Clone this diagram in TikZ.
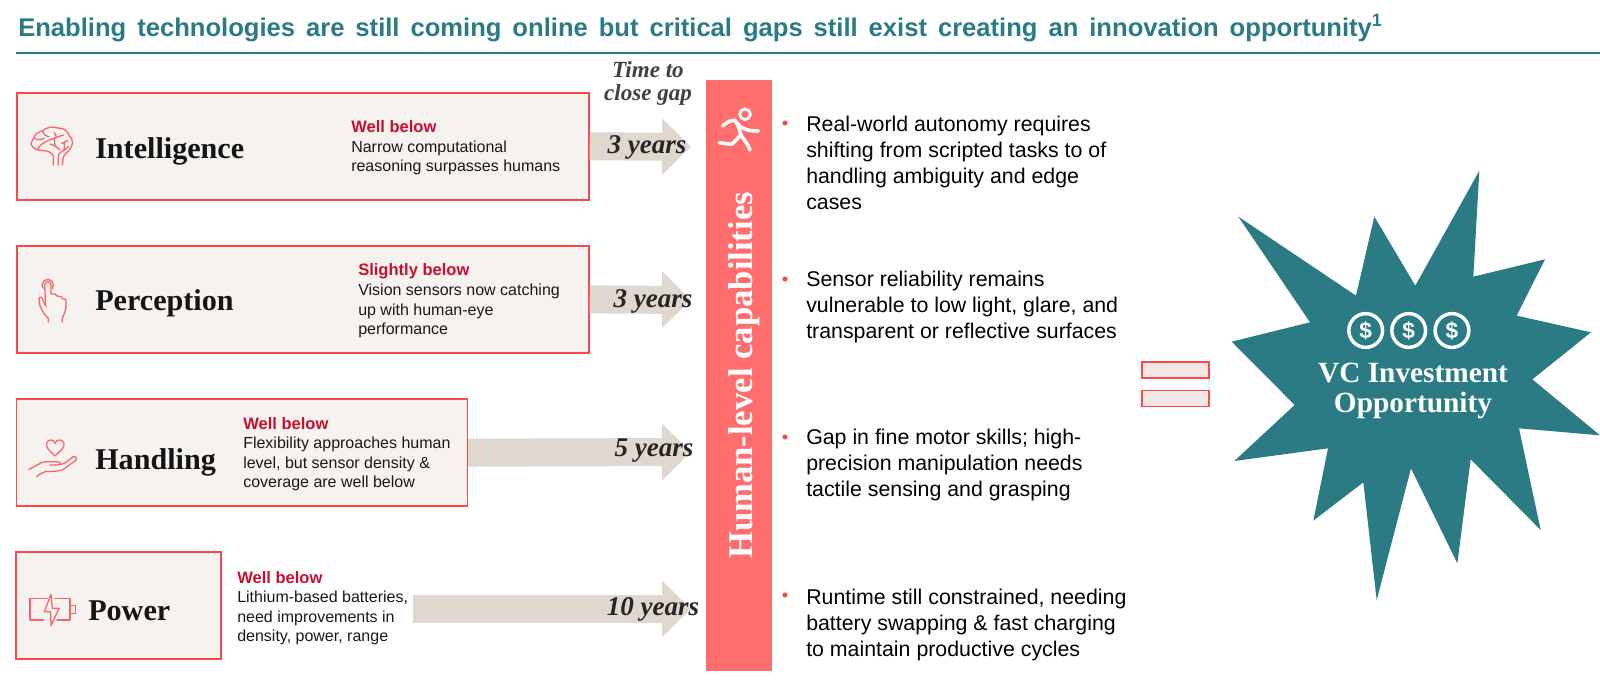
\documentclass[tikz,border=0pt]{standalone}
\usepackage{fontspec}
\setsansfont{Liberation Sans}
\setmainfont{Liberation Serif}
\usetikzlibrary{arrows.meta}
\definecolor{teal}{HTML}{2A7B84}
\definecolor{boxred}{HTML}{F84A4A}
\definecolor{boxfill}{HTML}{F5F2EF}
\definecolor{eqfill}{HTML}{F2E6E6}
\definecolor{barred}{HTML}{FF6D6D}
\definecolor{arrowfill}{HTML}{E0D7CE}
\definecolor{headred}{HTML}{C8102E}
\definecolor{iconred}{HTML}{FA6464}
\newcommand{\fs}[2]{\fontsize{#1}{#2}\selectfont}
\tikzset{
 x=.75pt,y=-.75pt,
 techbox/.style={draw=boxred,fill=boxfill,line width=1.1pt,rectangle,inner sep=0pt,minimum width=0pt},
 techname/.style={anchor=base west,inner sep=0pt,font=\bfseries\fs{22.6}{24},text=black!92},
 headline/.style={anchor=west,inner sep=0pt,font=\sffamily\bfseries\fs{12.4}{14},text=headred},
 detail/.style={anchor=north west,inner sep=0pt,align=left,font=\sffamily\fs{12}{14.5},text=black!90},
 bigarrow/.style={draw=arrowfill,line width=21pt,-{Triangle[length=21.75pt,width=41.25pt]}},
 yearlabel/.style={anchor=base,inner sep=0pt,font=\bfseries\itshape\fs{20.3}{22},text=black!85},
 gaptext/.style={inner sep=0pt,align=center,font=\bfseries\itshape\fs{17.3}{17},text=black!75},
 gapbullet/.style={circle,fill=boxred,inner sep=0pt,minimum size=3.8pt},
 gaptxt/.style={anchor=north west,inner sep=0pt,align=left,font=\sffamily\fs{16}{19.5},text=black},
 icon/.style={draw=iconred,line width=.95pt,line join=round,line cap=round},
 eqbar/.style={draw=boxred,fill=eqfill,line width=1.2pt},
 coin/.style={circle,draw=white,line width=2.6pt,minimum size=25.3pt,inner sep=0pt,text=white,font=\sffamily\bfseries\fs{17}{17}},
 runner/.style={white,line width=2.7pt,line cap=round,line join=round},
}
\begin{document}
\begin{tikzpicture}
\useasboundingbox (0,0) rectangle (1600,680);
% title
\node[anchor=west,inner sep=0pt,text=teal,font=\sffamily\bfseries\fs{19.2}{20}] (title) at (18,28)
 {\spaceskip=8.2pt Enabling technologies are still coming online but critical gaps still exist creating an innovation opportunity\textsuperscript{1}};
\coordinate (ruleL) at (16,53); \coordinate (ruleR) at (1600,53);
\draw[teal,line width=1pt] (ruleL) -- (ruleR);
% boxes
\node[techbox,minimum width=429pt,minimum height=80.2pt] (b1) at (303,146.4) {};
\node[techbox,minimum width=429pt,minimum height=80.2pt] (b2) at (303,299.4) {};
\node[techbox,minimum width=338pt,minimum height=80.2pt] (b3) at (242,452.7) {};
\node[techbox,minimum width=153.7pt,minimum height=80.2pt] (b4) at (118.5,605.3) {};
% names
\node[techname] (n1) at (95,158.7) {Intelligence};
\node[techname] (n2) at (95,311) {Perception};
\node[techname] (n3) at (95,470) {Handling};
\node[techname] (n4) at (88,620) {Power};
% detail
\node[headline] (h1) at (351,127) {Well below};
\node[detail] (d1) at (351,140.5) {Narrow computational\\reasoning surpasses humans};
\node[headline] (h2) at (358,271.5) {Slightly below};
\node[detail] (d2) at (358,284) {Vision sensors now catching\\up with human-eye\\performance};
\node[headline] (h3) at (243,424) {Well below};
\node[detail] (d3) at (243,437) {Flexibility approaches human\\level, but sensor density \&\\coverage are well below};
\node[headline] (h4) at (237,578) {Well below};
\node[detail] (d4) at (237,591) {Lithium-based batteries,\\need improvements in\\density, power, range};
% bar
\node[fill=barred,inner sep=0pt,minimum width=49.2pt,minimum height=443pt] (bar) at (738.9,375.5) {};
\node[rotate=90,inner sep=0pt,text=white,font=\bfseries\fs{26}{28}] (bartxt) at (744,375.5) {Human-level capabilities};
% arrows
\coordinate (t1) at (691,146.7); \coordinate (t2) at (691,300); \coordinate (t3) at (691,452); \coordinate (t4) at (691,609);
\coordinate (s4) at (413,609);
\draw[bigarrow] (b1.east) -- (t1);
\draw[bigarrow] (b2.east) -- (t2);
\draw[bigarrow] (b3.east) -- (t3);
\draw[bigarrow] (s4) -- (t4);
\node[gaptext] (gap) at (648,83.5) {Time to\\close gap};
\node[yearlabel] (y1) at (647,154) {3 years};
\node[yearlabel] (y2) at (653,308) {3 years};
\node[yearlabel] (y3) at (654,457) {5 years};
\node[yearlabel] (y4) at (653,615.5) {10 years};
% runner
\node[circle,draw=white,line width=2.1pt,minimum size=8pt,inner sep=0pt] (head) at (745,114.3) {};
\draw[runner]
 (722.7,126) .. controls (727,122) and (731,120) .. (735,120.5) .. controls (738,124) and (739,129) .. (741,135)
 .. controls (744,140) and (748,144) .. (750,150);
\draw[runner] (737,123) .. controls (742,130) and (750,131) .. (758.3,131);
\draw[runner] (719.3,142.7) -- (731.7,144.3) -- (741,135);
% gap bullets
\foreach \n/\y in {g1/123,g2/279,g3/437,g4/595}{\node[gapbullet] (\n) at (785,\y) {};}
\node[gaptxt] (t1x) at (806,116) {Real-world autonomy requires\\shifting from scripted tasks to of\\handling ambiguity and edge\\cases};
\node[gaptxt] (t2x) at (806,271) {Sensor reliability remains\\vulnerable to low light, glare, and\\transparent or reflective surfaces};
\node[gaptxt] (t3x) at (806,429) {Gap in fine motor skills; high-\\precision manipulation needs\\tactile sensing and grasping};
\node[gaptxt] (t4x) at (806,588.5) {Runtime still constrained, needing\\battery swapping \& fast charging\\to maintain productive cycles};
% equals
\node[eqbar,minimum width=50.5pt,minimum height=12pt,inner sep=0pt] (e1) at (1175.5,370) {};
\node[eqbar,minimum width=50.5pt,minimum height=12pt,inner sep=0pt] (e2) at (1175.5,398.5) {};
% star
\begin{scope}[shift={(1120,150)},scale=.33333]
\fill[teal] (1078,62)--(1060,380)--(1275,328)--(1190,497)--(1413,547)--(1237,688)--(1440,856)--(1197,835)--(1262,1140)--(1052,928)--(1012,1240)--(873,955)--(770,1350)--(730,997)--(580,1112)--(624,895)--(343,933)--(524,765)--(335,575)--(570,517)--(355,200)--(708,437)--(763,200)--(886,407)--cycle;
\end{scope}
\node[coin] (c1) at (1365.7,330.5) {\$};
\node[coin] (c2) at (1408.7,330.5) {\$};
\node[coin] (c3) at (1452,330.5) {\$};
\node[inner sep=0pt,align=center,text=white,font=\bfseries\fs{22}{23}] (vc) at (1413,391) {VC Investment\\Opportunity};
% brain
\begin{scope}[shift={(25,120)},scale=.33333]
\draw[icon] (85,135) -- (85,108) .. controls (80,95) and (65,93) .. (55,92) .. controls (40,92) and (20,85) .. (18,72)
 .. controls (18,62) and (25,58) .. (28,52) .. controls (28,40) and (45,35) .. (52,33) .. controls (62,22) and (85,18) .. (98,24)
 .. controls (115,22) and (130,35) .. (132,46) .. controls (145,55) and (145,75) .. (136,85) .. controls (130,98) and (118,100) .. (115,112) -- (112,135);
\draw[icon] (100,135) -- (100,108) .. controls (100,100) and (110,95) .. (118,90);
\draw[icon] (38,90) .. controls (42,75) and (55,68) .. (70,62);
\draw[icon] (28,55) .. controls (40,62) and (50,60) .. (58,55) (52,33) .. controls (55,42) and (60,48) .. (72,50);
\draw[icon] (72,60) -- (95,52) -- (115,45) (88,38) -- (95,52) (88,55) -- (90,78) (75,72) -- (90,78) -- (105,90);
\draw[icon] (110,70) -- (128,62) (118,65) -- (118,90) -- (130,80);
\end{scope}
% pointer
\begin{scope}[shift={(25,270)},scale=.33333]
\draw[icon] (54,55) arc[start angle=145,end angle=395,radius=17];
\draw[icon] (62,108) -- (59,45) .. controls (59,32) and (78,32) .. (78,45) -- (78,72) -- (90,72) -- (96,78) -- (108,80) -- (112,86) -- (122,88) .. controls (126,105) and (122,125) .. (112,145) -- (112,156);
\draw[icon] (62,108) -- (50,82) .. controls (46,78) and (40,82) .. (42,90) .. controls (44,115) and (55,130) .. (70,145) -- (70,156);
\end{scope}
% heart hand
\begin{scope}[shift={(25,430)},scale=.33333]
\draw[icon] (90,78) .. controls (75,62) and (62,55) .. (65,40) .. controls (68,28) and (85,25) .. (90,40) .. controls (95,25) and (114,28) .. (117,40) .. controls (120,55) and (105,62) .. (90,78) -- cycle;
\draw[icon] (12,118) .. controls (30,110) and (45,98) .. (60,95) -- (95,95) .. controls (110,95) and (108,105) .. (95,105) -- (75,105);
\draw[icon] (105,104) -- (118,100) -- (145,80) .. controls (155,78) and (158,88) .. (150,93) -- (112,120) .. controls (95,125) and (75,124) .. (60,125) .. controls (50,127) and (42,135) .. (35,140);
\end{scope}
% battery
\begin{scope}[shift={(25,585)},scale=.33333]
\draw[icon] (66,40) -- (15,40) -- (15,105) -- (56,105);
\draw[icon] (90,40) -- (135,40) -- (135,105) -- (96,105);
\draw[icon] (137,62) -- (152,62) -- (152,85) -- (137,85);
\draw[icon] (78,28) -- (58,80) -- (77,80) -- (78,122) -- (102,70) -- (82,70) -- cycle;
\end{scope}
\end{tikzpicture}
\end{document}
